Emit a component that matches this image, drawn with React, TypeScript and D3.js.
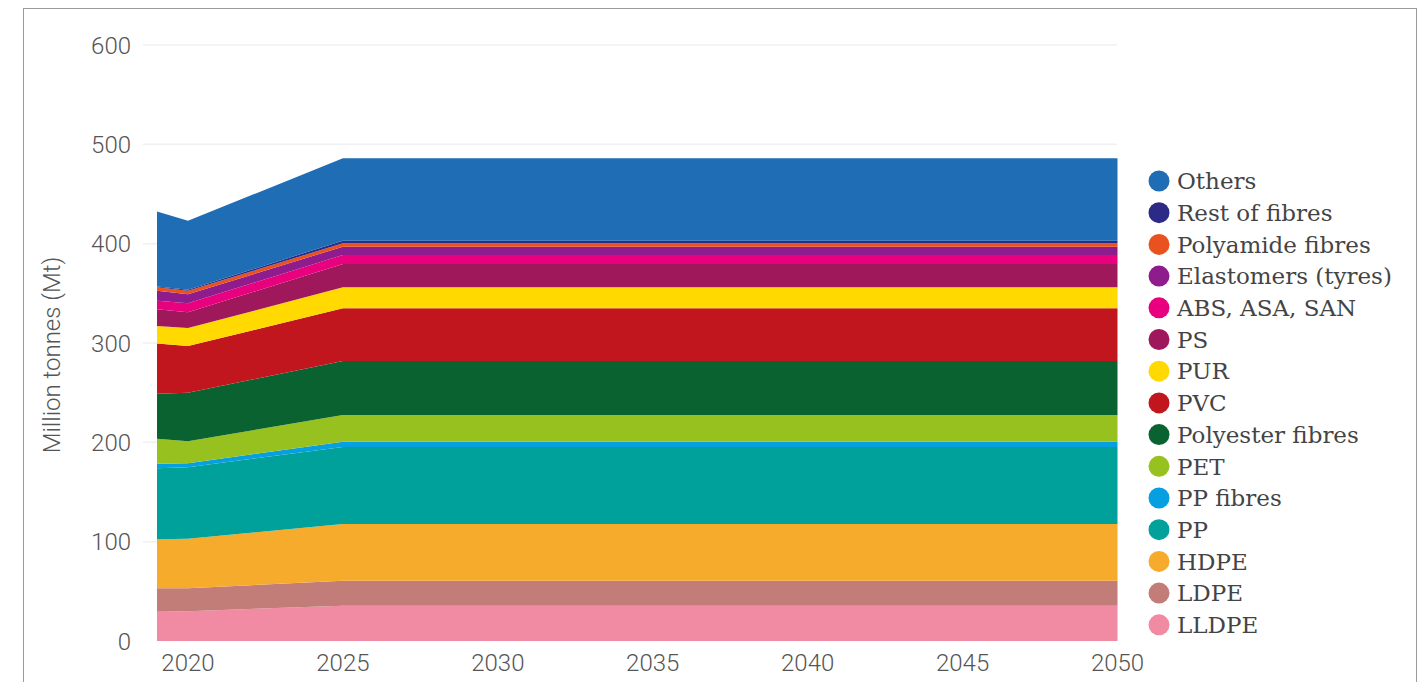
import React from "react";
import * as d3 from "d3";

const years = [2019, 2020, 2025, 2030, 2035, 2040, 2045, 2050];

// stack order bottom -> top
const seriesNames = [
  "LLDPE", "LDPE", "HDPE", "PP", "PP fibres", "PET", "Polyester fibres", "PVC",
  "PUR", "PS", "ABS, ASA, SAN", "Elastomers (tyres)", "Polyamide fibres", "Rest of fibres", "Others",
];

const LLDPE = [29.5, 30, 35.5, 35.5, 35.5, 35.5, 35.5, 35.5];
const LDPE = [23.5, 23, 25.2, 25.2, 25.2, 25.2, 25.2, 25.2];
const HDPE = [49.5, 50, 57.1, 57.1, 57.1, 57.1, 57.1, 57.1];
const PP = [71.5, 72, 77.5, 77.5, 77.5, 77.5, 77.5, 77.5];
const PPfibres = [4.5, 4, 5.3, 5.3, 5.3, 5.3, 5.3, 5.3];
const PET = [25, 22, 26.9, 26.9, 26.9, 26.9, 26.9, 26.9];
const Polyester = [45.5, 49, 54.4, 54.4, 54.4, 54.4, 54.4, 54.4];
const PVC = [50.5, 47, 53, 53, 53, 53, 53, 53];
const PUR = [17.5, 18, 21.2, 21.2, 21.2, 21.2, 21.2, 21.2];
const PS = [17, 16, 23.4, 23.4, 23.4, 23.4, 23.4, 23.4];
const ABS = [8.5, 9, 9.1, 9.1, 9.1, 9.1, 9.1, 9.1];
const Elastomers = [10, 9, 8.4, 8.4, 8.4, 8.4, 8.4, 8.4];
const Polyamide = [3.5, 3.5, 3.4, 3.4, 3.4, 3.4, 3.4, 3.4];
const RestFibres = [1, 1, 2.6, 2.6, 2.6, 2.6, 2.6, 2.6];
const Others = [75.5, 69.5, 83, 83, 83, 83, 83, 83];

const seriesValues = [
  LLDPE, LDPE, HDPE, PP, PPfibres, PET, Polyester, PVC, PUR, PS, ABS, Elastomers, Polyamide, RestFibres, Others,
];

const seriesColors = [
  "#f08ba3", "#c27d78", "#f7ab2c", "#00a19a", "#069fe0", "#97c11f", "#0b6231", "#c2161f",
  "#ffd900", "#a0185c", "#e8007f", "#8e1c8c", "#e9521e", "#2b2a87", "#1f6db5",
];

const yTicks = [0, 100, 200, 300, 400, 500, 600];
const xTicks = [2020, 2025, 2030, 2035, 2040, 2045, 2050];

export default function App() {
  const W = 1427, H = 682;
  const x = d3.scaleLinear().domain([2019, 2050]).range([157, 1117.5]);
  const y = d3.scaleLinear().domain([0, 600]).range([641, 45]);

  const table = years.map((yr, i) => {
    const row: any = { year: yr };
    seriesNames.forEach((n, k) => (row[n] = seriesValues[k][i]));
    return row;
  });
  const stacked = d3.stack<any>().keys(seriesNames)(table);
  const area = d3
    .area<any>()
    .x((d) => x(d.data.year))
    .y0((d) => y(d[0]))
    .y1((d) => y(d[1]));

  const axisFont = "Roboto, 'Open Sans', sans-serif";
  const legendFont = "'DejaVu Serif', serif";
  const legendTop = 181;
  const legendStep = 31.7;
  const legendOrder = [...seriesNames].reverse();
  const legendColors = [...seriesColors].reverse();

  return (
    <svg width={W} height={H} style={{ position: "absolute", left: 0, top: 0, background: "#fff" }}>
      <rect x={23.5} y={8.5} width={1393} height={700} fill="#fff" stroke="#9a9a9a" strokeWidth={1} />
      {yTicks.filter((t) => t > 0).map((t) => (
        <line key={t} x1={143} x2={1117} y1={y(t)} y2={y(t)} stroke="#f0f0f0" strokeWidth={1.5} />
      ))}
      {stacked.map((s, k) => (
        <path key={s.key} d={area(s) || ""} fill={seriesColors[k]} />
      ))}
      {yTicks.map((t) => (
        <text key={t} x={131} y={y(t)} dy="0.36em" textAnchor="end" fontFamily={axisFont} fontWeight={300}
          fontSize={24} fill="#555">{t}</text>
      ))}
      {xTicks.map((t) => (
        <text key={t} x={x(t)} y={662} dy="0.36em" textAnchor="middle" fontFamily={axisFont} fontWeight={300}
          fontSize={24} fill="#555">{t}</text>
      ))}
      <text transform={`translate(60,${(y(0) + y(600)) / 2 + 12}) rotate(-90)`} textAnchor="middle"
        fontFamily={axisFont} fontWeight={300} fontSize={24} fill="#555">Million tonnes (Mt)</text>
      {legendOrder.map((n, i) => (
        <g key={n} transform={`translate(0,${legendTop + i * legendStep})`}>
          <circle cx={1159} cy={0} r={10.5} fill={legendColors[i]} />
          <text x={1177} y={0} dy="0.36em" fontFamily={legendFont} fontSize={23} fill="#444">{n}</text>
        </g>
      ))}
    </svg>
  );
}
